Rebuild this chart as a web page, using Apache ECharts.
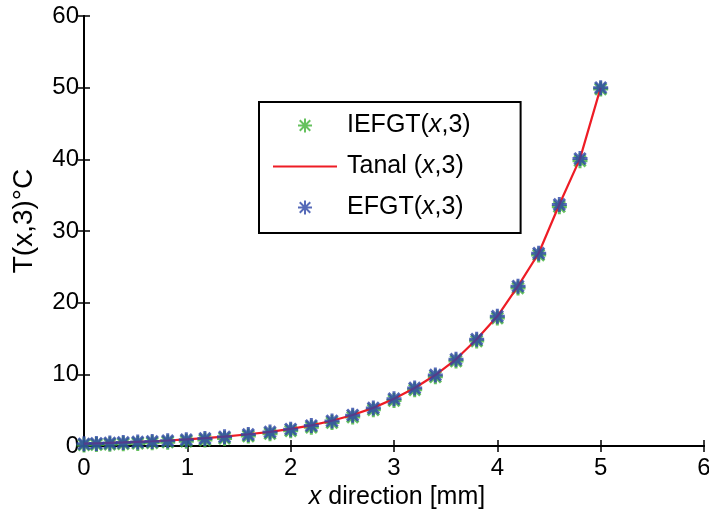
<!DOCTYPE html>
<html>
<head>
<meta charset="utf-8">
<script src="https://cdn.jsdelivr.net/npm/echarts@6/dist/echarts.min.js"></script>
<style>html,body{margin:0;padding:0;background:#fff}#c{width:709px;height:513px}</style>
</head>
<body>
<div id="c"></div>
<script>
const xPos = [0, 0.12, 0.25, 0.38, 0.52, 0.66, 0.81, 0.99, 1.17, 1.36, 1.59, 1.8, 2.0, 2.2, 2.4, 2.6, 2.8, 3.0, 3.2, 3.4, 3.6, 3.8, 4.0, 4.2, 4.4, 4.6, 4.8, 5.0];
const efgt = [0.30, 0.36, 0.42, 0.48, 0.55, 0.63, 0.74, 0.88, 1.05, 1.28, 1.60, 1.95, 2.35, 2.85, 3.5, 4.3, 5.3, 6.6, 8.1, 9.9, 12.1, 14.9, 18.1, 22.3, 26.9, 33.7, 40.1, 50.0];
const iefgt = [0.15, 0.2, 0.25, 0.3, 0.36, 0.44, 0.54, 0.67, 0.84, 1.06, 1.38, 1.72, 2.12, 2.62, 3.27, 4.05, 5.05, 6.35, 7.85, 9.65, 11.85, 14.65, 17.85, 22.05, 26.65, 33.4, 39.8, 49.8];
const tanal = [0.32, 0.38, 0.44, 0.5, 0.58, 0.66, 0.77, 0.92, 1.09, 1.32, 1.64, 1.98, 2.38, 2.88, 3.52, 4.32, 5.32, 6.6, 8.1, 9.9, 12.1, 14.9, 18.1, 22.3, 26.9, 33.7, 40.1, 50.0];
const xTicks = [0, 1, 2, 3, 4, 5, 6];
const yTicks = [0, 10, 20, 30, 40, 50, 60];
const names = ['IEFGT(x,3)', 'Tanal (x,3)', 'EFGT(x,3)'];

const pair = (xs, ys) => xs.map((x, i) => [x, ys[i]]);
const star = 'path://M0,-10L0,10M-10,0L10,0M-7.5,-7.5L7.5,7.5M-7.5,7.5L7.5,-7.5';
const FONT = 'Liberation Sans, Arial, sans-serif';

const chart = echarts.init(document.getElementById('c'), null, {renderer: 'canvas'});
const axLine = {show: true, lineStyle: {color: '#000', width: 2}};
const tick = {show: true, inside: true, length: 6, lineStyle: {color: '#000', width: 1.5}};
chart.setOption({
  animation: false,
  backgroundColor: '#fff',
  grid: {left: 84, right: 5, top: 16, bottom: 67, containLabel: false, outerBoundsMode: 'none'},
  xAxis: [{
    type: 'value', min: xTicks[0], max: xTicks[xTicks.length - 1], interval: 1, position: 'bottom',
    axisLine: axLine, axisTick: tick, splitLine: {show: false},
    axisLabel: {color: '#000', fontSize: 24, fontFamily: FONT, margin: 10},
    name: '{i|x} direction [mm]', nameLocation: 'middle', nameGap: 39,
    nameTextStyle: {color: '#000', fontSize: 25, fontFamily: FONT, padding: [0, 0, 0, 6],
      rich: {i: {fontStyle: 'italic', fontSize: 25, fontFamily: FONT, color: '#000'}}}
  }, {
    type: 'value', min: xTicks[0], max: xTicks[xTicks.length - 1], interval: 1, position: 'top',
    axisLine: axLine, axisTick: tick, splitLine: {show: false}, axisLabel: {show: false}
  }],
  yAxis: [{
    type: 'value', min: yTicks[0], max: yTicks[yTicks.length - 1], interval: 10, position: 'left',
    axisLine: axLine, axisTick: tick, splitLine: {show: false},
    axisLabel: {color: '#000', fontSize: 24, fontFamily: FONT, margin: 5},
    name: 'T(x,3)°C', nameLocation: 'middle', nameGap: 46, nameRotate: 90,
    nameTextStyle: {color: '#000', fontSize: 28, fontFamily: FONT, padding: [0, 0, 0, 20]}
  }, {
    type: 'value', min: yTicks[0], max: yTicks[yTicks.length - 1], interval: 10, position: 'right',
    axisLine: axLine, axisTick: tick, splitLine: {show: false}, axisLabel: {show: false}
  }],
  legend: {
    orient: 'vertical', left: 259, top: 102,
    padding: [11, 50, 13, 13], itemGap: 16, itemWidth: 64, itemHeight: 14,
    borderColor: '#000', borderWidth: 2, backgroundColor: '#fff',
    data: [
      {name: names[0]},
      {name: names[1], itemStyle: {color: 'rgba(0,0,0,0)', borderColor: 'rgba(0,0,0,0)', opacity: 0}},
      {name: names[2]}
    ],
    formatter: n => n.replace('x', '{i|x}'),
    textStyle: {color: '#000', fontSize: 25, fontFamily: FONT, padding: [0, 0, 0, 5],
      rich: {i: {fontStyle: 'italic', fontSize: 25, fontFamily: FONT, color: '#000'}}}
  },
  series: [{
    name: names[0], type: 'scatter', data: pair(xPos, iefgt),
    symbol: star, symbolSize: 15, symbolKeepAspect: true,
    itemStyle: {color: 'rgba(0,0,0,0)', borderColor: '#3fb236', borderWidth: 3}, z: 2
  }, {
    name: names[1], type: 'line', data: pair(xPos, tanal), symbol: 'none', showSymbol: false,
    lineStyle: {color: '#ee1c25', width: 2.2}, itemStyle: {color: '#ee1c25'}, z: 3
  }, {
    name: names[2], type: 'scatter', data: pair(xPos, efgt),
    symbol: star, symbolSize: 15, symbolKeepAspect: true,
    itemStyle: {color: 'rgba(0,0,0,0)', borderColor: '#2c45a6', borderWidth: 3}, z: 4
  }]
});
</script>
</body>
</html>
